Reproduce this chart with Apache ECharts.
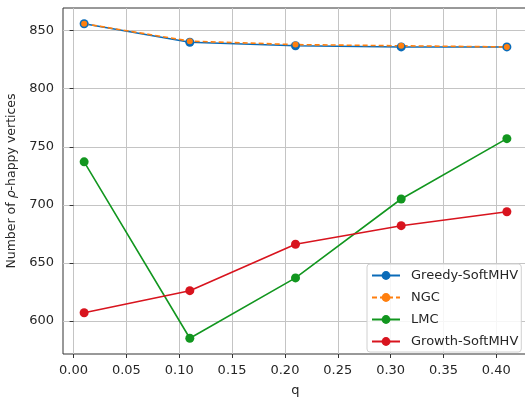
<!DOCTYPE html>
<html>
<head>
<meta charset="utf-8">
<script src="https://cdn.jsdelivr.net/npm/echarts@6/dist/echarts.min.js"></script>
<style>
  html, body { margin: 0; padding: 0; background: #fff; }
  #chart { width: 525px; height: 397px; }
</style>
</head>
<body>
<div id="chart"></div>
<script>
// q values shared by all methods
const qValues = [0.01, 0.11, 0.21, 0.31, 0.41];

// number of rho-happy vertices per method
const greedySoftMHV = [856, 840, 837, 836, 836];
const ngc = [856, 841, 838, 837, 836];
const lmc = [737, 585, 637, 705, 757];
const growthSoftMHV = [607, 626, 666, 682, 694];

// tick labels
const xTicks = [0.00, 0.05, 0.10, 0.15, 0.20, 0.25, 0.30, 0.35, 0.40];
const yTicks = [600, 650, 700, 750, 800, 850];

const pairs = (ys) => qValues.map((q, i) => [q, ys[i]]);

const FONT = 'DejaVu Sans';
const TEXT = '#262626';

const chart = echarts.init(document.getElementById('chart'), null, { renderer: 'canvas' });

function lineSeries(name, data, color, opts) {
  return Object.assign({
    name: name,
    type: 'line',
    data: pairs(data),
    symbol: 'circle',
    symbolSize: 9,
    showSymbol: true,
    animation: false,
    itemStyle: { color: color, borderWidth: 0 },
    lineStyle: { color: color, width: 1.6 },
    emphasis: { disabled: true }
  }, opts || {});
}

chart.setOption({
  animation: false,
  backgroundColor: '#ffffff',
  grid: {
    left: 63, top: 8, width: 465, height: 346,
    outerBoundsMode: 'none', containLabel: false,
    show: true, borderColor: '#333', borderWidth: 1, backgroundColor: 'transparent'
  },
  xAxis: {
    type: 'value',
    min: -0.01, max: 0.43,
    name: 'q',
    nameLocation: 'middle',
    nameGap: 30,
    nameTextStyle: { fontFamily: FONT, fontSize: 13, color: TEXT },
    axisLine: { show: false },
    axisTick: { show: true, customValues: xTicks, length: 4, inside: false, lineStyle: { color: '#333' } },
    axisLabel: {
      customValues: xTicks, margin: 10,
      fontFamily: FONT, fontSize: 13, color: TEXT,
      formatter: (v) => v.toFixed(2)
    },
    splitLine: { show: true, lineStyle: { color: '#c4c4c4', width: 1 } }
  },
  yAxis: {
    type: 'value',
    min: 571.45, max: 869.55,
    name: 'Number of {i|ρ}-happy vertices',
    nameLocation: 'middle',
    nameGap: 43,
    nameTextStyle: {
      fontFamily: FONT, fontSize: 12.5, color: TEXT,
      rich: { i: { fontFamily: FONT, fontSize: 12.5, fontStyle: 'italic', color: TEXT } }
    },
    axisLine: { show: false },
    axisTick: { show: true, customValues: yTicks, length: 4, lineStyle: { color: '#333' } },
    axisLabel: {
      customValues: yTicks, margin: 9,
      fontFamily: FONT, fontSize: 13, color: TEXT
    },
    splitLine: { show: true, lineStyle: { color: '#c4c4c4', width: 1 } }
  },
  legend: {
    orient: 'vertical',
    left: 367, top: 264,
    itemWidth: 28, itemHeight: 11, itemGap: 9,
    padding: [5, 3, 4, 4],
    backgroundColor: 'rgba(255,255,255,0.85)',
    borderColor: '#d0d0d0', borderWidth: 1, borderRadius: 3,
    textStyle: { fontFamily: FONT, fontSize: 13, color: TEXT, padding: [0, 0, 0, 6] },
    data: ['Greedy-SoftMHV', 'NGC', 'LMC', 'Growth-SoftMHV']
  },
  series: [
    lineSeries('Greedy-SoftMHV', greedySoftMHV, '#0a6bb8'),
    lineSeries('NGC', ngc, '#ff7f0e', { symbolSize: 6, lineStyle: { color: '#ff7f0e', width: 1.6, type: [5, 3] } }),
    lineSeries('LMC', lmc, '#12961f'),
    lineSeries('Growth-SoftMHV', growthSoftMHV, '#d8141e')
  ]
});
</script>
</body>
</html>
